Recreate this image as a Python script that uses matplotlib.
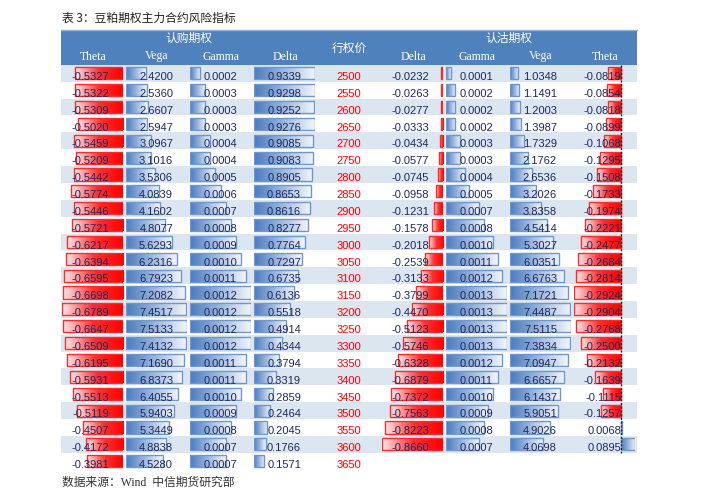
import numpy as np
import matplotlib
matplotlib.use('Agg')
import matplotlib.pyplot as plt
from matplotlib.colors import LinearSegmentedColormap

# 数据
strikes = [2500, 2550, 2600, 2650, 2700, 2750, 2800, 2850, 2900, 2950, 3000, 3050,
           3100, 3150, 3200, 3250, 3300, 3350, 3400, 3450, 3500, 3550, 3600, 3650]

call_theta = [-0.5327, -0.5322, -0.5309, -0.5020, -0.5459, -0.5209, -0.5442, -0.5774,
              -0.5446, -0.5721, -0.6217, -0.6394, -0.6595, -0.6698, -0.6789, -0.6647,
              -0.6509, -0.6195, -0.5931, -0.5513, -0.5119, -0.4507, -0.4172, -0.3981]
call_vega = [2.4200, 2.5360, 2.6607, 2.5947, 3.0967, 3.1016, 3.5306, 4.0839,
             4.1602, 4.8077, 5.6293, 6.2316, 6.7923, 7.2082, 7.4517, 7.5133,
             7.4132, 7.1690, 6.8373, 6.4055, 5.9403, 5.3449, 4.8838, 4.5280]
call_gamma = [0.0002, 0.0003, 0.0003, 0.0003, 0.0004, 0.0004, 0.0005, 0.0006,
              0.0007, 0.0008, 0.0009, 0.0010, 0.0011, 0.0012, 0.0012, 0.0012,
              0.0012, 0.0011, 0.0011, 0.0010, 0.0009, 0.0008, 0.0007, 0.0007]
call_delta = [0.9339, 0.9298, 0.9252, 0.9276, 0.9085, 0.9083, 0.8905, 0.8653,
              0.8616, 0.8277, 0.7764, 0.7297, 0.6735, 0.6136, 0.5518, 0.4914,
              0.4344, 0.3794, 0.3319, 0.2859, 0.2464, 0.2045, 0.1766, 0.1571]

put_delta = [-0.0232, -0.0263, -0.0277, -0.0333, -0.0434, -0.0577, -0.0745, -0.0958,
             -0.1231, -0.1578, -0.2018, -0.2539, -0.3133, -0.3799, -0.4470, -0.5123,
             -0.5746, -0.6328, -0.6879, -0.7372, -0.7563, -0.8223, -0.8660]
put_gamma = [0.0001, 0.0002, 0.0002, 0.0002, 0.0003, 0.0003, 0.0004, 0.0005,
             0.0007, 0.0008, 0.0010, 0.0011, 0.0012, 0.0013, 0.0013, 0.0013,
             0.0013, 0.0012, 0.0011, 0.0010, 0.0009, 0.0008, 0.0007]
put_vega = [1.0348, 1.1491, 1.2003, 1.3987, 1.7329, 2.1762, 2.6536, 3.2026,
            3.8358, 4.5414, 5.3027, 6.0351, 6.6763, 7.1721, 7.4487, 7.5115,
            7.3834, 7.0947, 6.6657, 6.1437, 5.9051, 4.9026, 4.0698]
put_theta = [-0.0819, -0.0854, -0.0818, -0.0899, -0.1068, -0.1295, -0.1508, -0.1733,
             -0.1974, -0.2221, -0.2477, -0.2684, -0.2814, -0.2924, -0.2904, -0.2768,
             -0.2500, -0.2132, -0.1639, -0.1115, -0.1257, 0.0068, 0.0895]

col_names = ['Theta', 'Vega', 'Gamma', 'Delta', '行权价', 'Delta', 'Gamma', 'Vega', 'Theta']
columns = [call_theta, call_vega, call_gamma, call_delta, None,
           put_delta, put_gamma, put_vega, put_theta]

# 版式 (像素)
W, H = 705, 500
X0, CW = 61, 64
TOP, RH = 64.8, 16.87
HEAD_TOP = 29.5
nrows = len(strikes)

HEAD_C = '#4F81BD'
SHADE_C = '#DCE6F1'
TXT_C = '#1F2A5C'
cn = ['Noto Sans CJK SC', 'DejaVu Sans']

blue_cm = LinearSegmentedColormap.from_list('b', ['#4A7BC0', '#9DB8DE', '#F2F6FB'])
red_cm = LinearSegmentedColormap.from_list('r', ['#FF0000', '#FF3030', '#FFE8E8'])

fig = plt.figure(figsize=(W / 100, H / 100), dpi=100)

# 背景
bg = fig.add_axes([0, 0, 1, 1])
bg.set_xlim(0, W)
bg.set_ylim(H, 0)
bg.axis('off')
tbl_right = X0 + CW * 9
bg.add_patch(plt.Rectangle((X0, HEAD_TOP), tbl_right - X0, TOP - HEAD_TOP,
                           facecolor=HEAD_C, edgecolor='none'))
bg.plot([X0, tbl_right], [HEAD_TOP, HEAD_TOP], color='#95B3D7', lw=1)
for i in range(nrows):
    if i % 2 == 0:
        bg.add_patch(plt.Rectangle((X0, TOP + i * RH), tbl_right - X0, RH,
                                   facecolor=SHADE_C, edgecolor='none'))


def bar_column(ci, vals):
    left = X0 + CW * ci + 1
    bw = 61
    bottom = TOP + nrows * RH
    ax = fig.add_axes([left / W, 1 - bottom / H, bw / W, nrows * RH / H])
    ax.patch.set_alpha(0)
    ax.axis('off')
    ys = np.arange(len(vals)) + 0.5
    for y, v in zip(ys, vals):
        cm = blue_cm if v >= 0 else red_cm
        ec = '#6F97CF' if v >= 0 else '#FF2A2A'
        b = ax.barh(y, v, height=0.72, left=0, facecolor='none', edgecolor=ec,
                    lw=1, zorder=3)[0]
        grad = np.linspace(0, 1, 64).reshape(1, -1)
        im = ax.imshow(grad, cmap=cm, extent=(0, v, y + 0.36, y - 0.36),
                       aspect='auto', interpolation='bilinear', zorder=2)
        im.set_clip_path(b)
    lo, hi = min(0, min(vals)), max(0, max(vals))
    ax.set_xlim(lo, hi)
    ax.set_ylim(nrows, 0)
    if lo < 0 < hi:
        ax.vlines(0, 0, len(vals), colors='#222222', linestyles=(0, (1.5, 1.2)),
                  lw=1, zorder=4)


for ci, vals in enumerate(columns):
    if vals is not None:
        bar_column(ci, vals)

# 文字
tx = fig.add_axes([0, 0, 1, 1])
tx.set_xlim(0, W)
tx.set_ylim(H, 0)
tx.axis('off')
tx.patch.set_alpha(0)

tx.text(62, 18, '表 3：豆粕期权主力合约风险指标', family=cn, fontsize=8.5,
        color='#222222', va='center', ha='left')
tx.text(62, 483, '数据来源：Wind  中信期货研究部', family=['Liberation Serif', 'Noto Sans CJK SC'],
        fontsize=8.5, color='#333333', va='center', ha='left')

tx.text(X0 + CW * 2, 38.5, '认购期权', family=cn, fontsize=8.5, color='white',
        ha='center', va='center')
tx.text(X0 + CW * 7, 38.5, '认沽期权', family=cn, fontsize=8.5, color='white',
        ha='center', va='center')
for ci, name in enumerate(col_names):
    cx = X0 + CW * ci + CW / 2
    if ci == 4:
        tx.text(cx, 48, name, family=cn, fontsize=8.5, color='white',
                ha='center', va='center')
    else:
        tx.text(cx, 56.5, name, family='Liberation Serif', fontsize=8.5,
                color='white', ha='center', va='center')

for ci, vals in enumerate(columns):
    right = X0 + CW * (ci + 1) - 16
    if vals is None:
        for i, k in enumerate(strikes):
            tx.text(X0 + CW * ci + CW / 2, TOP + i * RH + 15.2, str(k),
                    family='Liberation Sans', fontsize=8, color='#FF0000',
                    ha='center', va='baseline')
        continue
    for i, v in enumerate(vals):
        tx.text(right, TOP + i * RH + 15.2, f'{v:.4f}', family='Liberation Sans',
                fontsize=8, color=TXT_C, ha='right', va='baseline')

fig.savefig('out.png', dpi=100)
